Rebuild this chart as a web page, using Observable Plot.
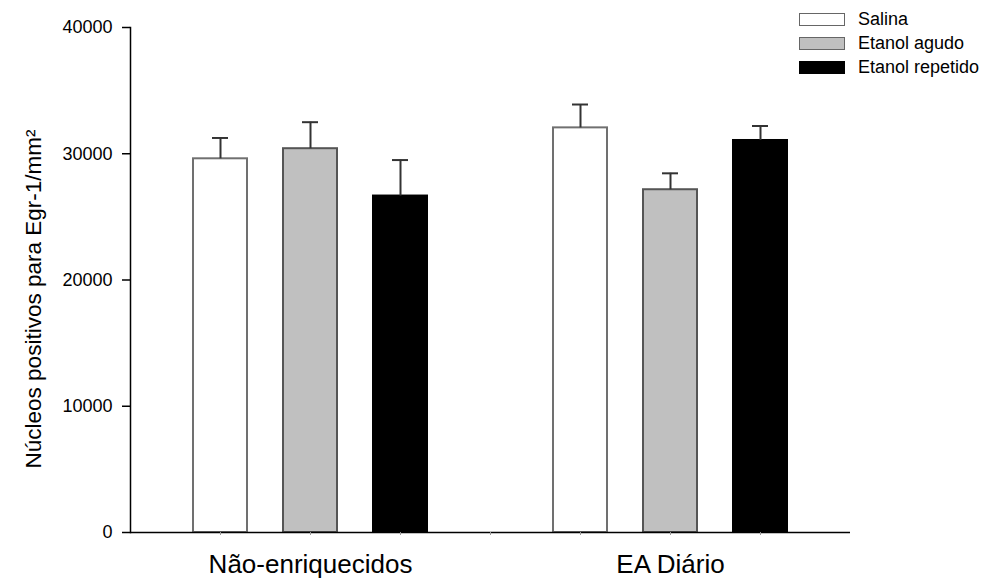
<!DOCTYPE html>
<html>
<head>
<meta charset="utf-8">
<script src="https://cdn.jsdelivr.net/npm/d3@7"></script>
<script src="https://cdn.jsdelivr.net/npm/@observablehq/plot@0.6"></script>
<style>
  html, body { margin: 0; padding: 0; background: white; }
  #wrap { position: relative; width: 1000px; height: 587px; font-family: "Liberation Sans", Arial, sans-serif; }
  #legend { position: absolute; left: 799px; top: 7px; font-size: 18px; color: black; }
  .row { display: flex; align-items: center; height: 24px; }
  .sw { width: 44px; height: 11px; border: 1px solid #666; margin-right: 13px; box-sizing: content-box; }
</style>
</head>
<body>
<div id="wrap"></div>
<script>
const groups = ["Não-enriquecidos", "EA Diário"];
const treatments = ["Salina", "Etanol agudo", "Etanol repetido"];
const colors = ["#ffffff", "#c0c0c0", "#000000"];
const outlines = ["#707070", "#555555", "#000000"];
const means = [[29600, 30400, 26650], [32050, 27150, 31050]];
const sems = [[1650, 2100, 2850], [1850, 1300, 1150]];
const yTicks = [0, 10000, 20000, 30000, 40000];
const yLabel = "Núcleos positivos para Egr-1/mm²";

const data = [];
groups.forEach((g, gi) => treatments.forEach((t, ti) => {
  data.push({key: g + "|" + t, group: g, treatment: t, ti,
    mean: means[gi][ti], top: means[gi][ti] + sems[gi][ti],
    fill: colors[ti], stroke: outlines[ti]});
}));
const domain = [];
groups.forEach((g, gi) => {
  treatments.forEach(t => domain.push(g + "|" + t));
  if (gi < groups.length - 1) domain.push("gap");
});

const chart = Plot.plot({
  width: 1000, height: 587,
  marginLeft: 130, marginRight: 150, marginTop: 27, marginBottom: 55,
  style: {fontFamily: "'Liberation Sans', Arial, sans-serif", background: "white", color: "black", overflow: "visible"},
  x: {type: "band", domain, paddingInner: 0.4, paddingOuter: 0.7, align: 0.5},
  y: {domain: [0, 40000]},
  color: {type: "identity"},
  marks: [
    Plot.barY(data, {x: "key", y: "mean", fill: "fill", stroke: "stroke", strokeWidth: 2}),
    Plot.ruleX(data, {x: "key", y1: "mean", y2: "top", stroke: "#333", strokeWidth: 2}),
    Plot.tickY(data, {x: "key", y: "top", stroke: "#333", strokeWidth: 2, insetLeft: 19, insetRight: 19}),
    Plot.ruleY([0], {stroke: "black", strokeWidth: 1.5}),
    Plot.frame({anchor: "left", stroke: "black", strokeWidth: 1.5}),
    Plot.axisY({ticks: yTicks, tickSize: 8, tickPadding: 10, tickFormat: d => String(d), fontSize: 18, label: null, stroke: "black", strokeWidth: 1.5, fill: "black"}),
    Plot.axisX({tickSize: 3, tickPadding: 19, fontSize: 26, label: null, stroke: "#999", fill: "black",
      tickFormat: k => {
        const [g, t] = k.split("|");
        return t === treatments[1] ? g : "";
      }}),
    Plot.text([yLabel], {text: d => d, frameAnchor: "left", textAnchor: "middle", lineAnchor: "middle", rotate: -90, dx: -97, dy: 19, fontSize: 22.5, fill: "black"})
  ]
});
const wrap = document.getElementById("wrap");
wrap.appendChild(chart);

const legend = document.createElement("div");
legend.id = "legend";
treatments.forEach((t, i) => {
  const row = document.createElement("div");
  row.className = "row";
  const sw = document.createElement("div");
  sw.className = "sw";
  sw.style.background = colors[i];
  if (i === 2) sw.style.borderColor = "#000";
  const lab = document.createElement("span");
  lab.textContent = t;
  row.appendChild(sw);
  row.appendChild(lab);
  legend.appendChild(row);
});
wrap.appendChild(legend);
</script>
</body>
</html>
